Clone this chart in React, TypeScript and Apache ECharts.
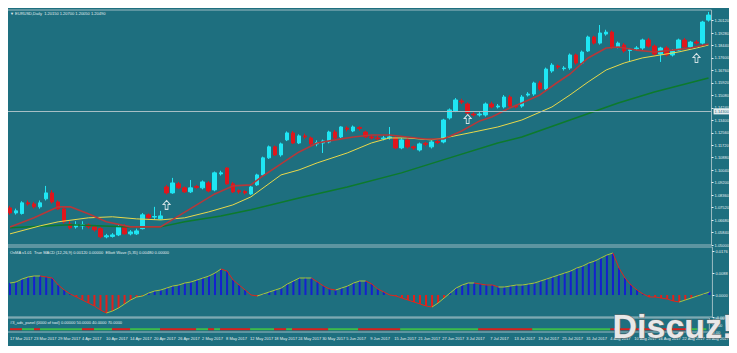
import React, { useEffect, useRef } from "react";
import * as echarts from "echarts";

const DATES = [
  "17 Mar 2017","20 Mar 2017","21 Mar 2017","22 Mar 2017","23 Mar 2017","24 Mar 2017","27 Mar 2017","28 Mar 2017","29 Mar 2017","30 Mar 2017","31 Mar 2017",
  "3 Apr 2017","4 Apr 2017","5 Apr 2017","6 Apr 2017","7 Apr 2017","10 Apr 2017","11 Apr 2017","12 Apr 2017","13 Apr 2017","14 Apr 2017","17 Apr 2017","18 Apr 2017","19 Apr 2017","20 Apr 2017","21 Apr 2017","24 Apr 2017","25 Apr 2017","26 Apr 2017","27 Apr 2017","28 Apr 2017",
  "1 May 2017","2 May 2017","3 May 2017","4 May 2017","5 May 2017","8 May 2017","9 May 2017","10 May 2017","11 May 2017","12 May 2017","15 May 2017","16 May 2017","17 May 2017","18 May 2017","19 May 2017","22 May 2017","23 May 2017","24 May 2017","25 May 2017","26 May 2017","29 May 2017","30 May 2017","31 May 2017",
  "1 Jun 2017","2 Jun 2017","5 Jun 2017","6 Jun 2017","7 Jun 2017","8 Jun 2017","9 Jun 2017","12 Jun 2017","13 Jun 2017","14 Jun 2017","15 Jun 2017","16 Jun 2017","19 Jun 2017","20 Jun 2017","21 Jun 2017","22 Jun 2017","23 Jun 2017","26 Jun 2017","27 Jun 2017","28 Jun 2017","29 Jun 2017","30 Jun 2017",
  "3 Jul 2017","4 Jul 2017","5 Jul 2017","6 Jul 2017","7 Jul 2017","10 Jul 2017","11 Jul 2017","12 Jul 2017","13 Jul 2017","14 Jul 2017","17 Jul 2017","18 Jul 2017","19 Jul 2017","20 Jul 2017","21 Jul 2017","24 Jul 2017","25 Jul 2017","26 Jul 2017","27 Jul 2017","28 Jul 2017","31 Jul 2017",
  "1 Aug 2017","2 Aug 2017","3 Aug 2017","4 Aug 2017","7 Aug 2017","8 Aug 2017","9 Aug 2017","10 Aug 2017","11 Aug 2017","14 Aug 2017","15 Aug 2017","16 Aug 2017","17 Aug 2017","18 Aug 2017","21 Aug 2017","22 Aug 2017","23 Aug 2017","24 Aug 2017","25 Aug 2017","28 Aug 2017"
];

const OPEN = [
  1.0750,1.0716,1.0712,1.0784,1.0777,1.0757,1.0811,1.0851,1.0790,1.0743,
  1.0642,1.0622,1.0629,1.0636,1.0622,1.0610,1.0555,1.0558,1.0568,1.0622,
  1.0575,1.0575,1.0610,1.0703,1.0688,1.0676,1.0891,1.0851,1.0912,1.0885,
  1.0858,1.0895,1.0885,1.0918,1.0871,1.0979,1.1019,1.0912,1.0865,1.0860,
  1.0844,1.0905,1.0972,1.1087,1.1161,1.1107,1.1208,1.1255,1.1187,1.1235,
  1.1221,1.1181,1.1187,1.1194,1.1261,1.1228,1.1288,1.1268,1.1292,1.1261,
  1.1228,1.1221,1.1215,1.1221,1.1221,1.1154,1.1208,1.1161,1.1140,1.1185,
  1.1161,1.1197,1.1194,1.1356,1.1403,1.1470,1.1450,1.1382,1.1376,1.1376,
  1.1450,1.1430,1.1430,1.1497,1.1436,1.1436,1.1510,1.1517,1.1591,1.1551,
  1.1672,1.1705,1.1688,1.1692,1.1780,1.1726,1.1807,1.1901,1.1860,1.1921,
  1.1934,1.1834,1.1847,1.1810,1.1822,1.1827,1.1881,1.1840,1.1786,1.1827,
  1.1780,1.1813,1.1881,1.1834,1.1867,1.1860,1.2015
];
const CLOSE = [
  1.0716,1.0730,1.0784,1.0777,1.0757,1.0784,1.0851,1.0790,1.0743,1.0656,
  1.0616,1.0636,1.0636,1.0622,1.0602,1.0555,1.0562,1.0568,1.0622,1.0575,
  1.0588,1.0595,1.0703,1.0683,1.0692,1.0696,1.0851,1.0918,1.0885,1.0858,
  1.0885,1.0888,1.0925,1.0864,1.0986,1.0986,1.0912,1.0858,1.0858,1.0851,
  1.0891,1.0972,1.1087,1.1161,1.1107,1.1181,1.1255,1.1187,1.1235,1.1228,
  1.1181,1.1190,1.1201,1.1261,1.1221,1.1295,1.1280,1.1295,1.1285,1.1228,
  1.1221,1.1215,1.1221,1.1228,1.1154,1.1208,1.1161,1.1154,1.1181,1.1178,
  1.1194,1.1190,1.1342,1.1410,1.1477,1.1463,1.1389,1.1376,1.1382,1.1450,
  1.1430,1.1436,1.1497,1.1436,1.1430,1.1497,1.1517,1.1591,1.1551,1.1685,
  1.1712,1.1699,1.1692,1.1780,1.1726,1.1800,1.1901,1.1860,1.1928,1.1934,
  1.1834,1.1860,1.1807,1.1815,1.1827,1.1881,1.1840,1.1786,1.1827,1.1780,
  1.1807,1.1881,1.1834,1.1867,1.1860,1.2002,1.2049
];
const LOW = [
  1.0703,1.0705,1.0705,1.0765,1.0745,1.0745,1.0800,1.0780,1.0735,1.0645,
  1.0605,1.0610,1.0605,1.0610,1.0590,1.0545,1.0545,1.0550,1.0560,1.0570,
  1.0565,1.0568,1.0605,1.0670,1.0670,1.0670,1.0840,1.0845,1.0878,1.0850,
  1.0850,1.0878,1.0875,1.0855,1.0862,1.0968,1.0905,1.0850,1.0845,1.0840,
  1.0838,1.0898,1.0965,1.1080,1.1100,1.1095,1.1200,1.1180,1.1180,1.1215,
  1.1170,1.1165,1.1120,1.1185,1.1210,1.1220,1.1265,1.1260,1.1270,1.1220,
  1.1210,1.1205,1.1205,1.1210,1.1145,1.1145,1.1150,1.1140,1.1130,1.1165,
  1.1150,1.1180,1.1185,1.1345,1.1395,1.1450,1.1380,1.1365,1.1365,1.1365,
  1.1420,1.1420,1.1420,1.1425,1.1420,1.1425,1.1500,1.1505,1.1540,1.1540,
  1.1660,1.1685,1.1675,1.1680,1.1715,1.1715,1.1800,1.1850,1.1850,1.1910,
  1.1820,1.1825,1.1795,1.1733,1.1810,1.1815,1.1830,1.1775,1.1733,1.1770,
  1.1770,1.1805,1.1825,1.1825,1.1850,1.1850,1.2005
];
const HIGH = [
  1.0764,1.0745,1.0795,1.0800,1.0790,1.0800,1.0898,1.0870,1.0800,1.0750,
  1.0660,1.0660,1.0660,1.0645,1.0630,1.0620,1.0575,1.0580,1.0635,1.0640,
  1.0600,1.0610,1.0715,1.0712,1.0757,1.0730,1.0905,1.0952,1.0925,1.0895,
  1.0938,1.0905,1.0935,1.0930,1.0995,1.1000,1.1024,1.0925,1.0875,1.0870,
  1.0900,1.0980,1.1095,1.1170,1.1170,1.1190,1.1265,1.1268,1.1245,1.1250,
  1.1230,1.1205,1.1210,1.1270,1.1275,1.1300,1.1300,1.1305,1.1300,1.1270,
  1.1240,1.1235,1.1235,1.1295,1.1235,1.1220,1.1220,1.1170,1.1190,1.1195,
  1.1205,1.1210,1.1350,1.1420,1.1490,1.1485,1.1460,1.1395,1.1395,1.1460,
  1.1465,1.1450,1.1510,1.1510,1.1445,1.1510,1.1530,1.1600,1.1605,1.1695,
  1.1725,1.1715,1.1705,1.1790,1.1790,1.1810,1.1910,1.1910,1.1982,1.1950,
  1.1945,1.1870,1.1860,1.1825,1.1840,1.1890,1.1895,1.1850,1.1835,1.1840,
  1.1820,1.1890,1.1895,1.1875,1.1880,1.2010,1.2070
];

// moving averages: [candle index, price]
const MA_FAST = [
  [0,1.0622],[4,1.0683],[8,1.0757],[10,1.0757],[13,1.0710],[16,1.0656],[20,1.0622],[25,1.0622],
  [28,1.0696],[31,1.0770],[34,1.0844],[37,1.0898],[40,1.0905],[42,1.0965],[45,1.1046],[48,1.1127],
  [51,1.1187],[54,1.1208],[57,1.1228],[60,1.1241],[63,1.1241],[66,1.1228],[69,1.1214],[72,1.1214],
  [75,1.1268],[78,1.1336],[80,1.1362],[83,1.1423],[85,1.1457],[88,1.1511],[91,1.1598],[93,1.1652],
  [96,1.1760],[99,1.1827],[101,1.1834],[104,1.1813],[107,1.1800],[110,1.1813],[113,1.1827],[116,1.1854]
];
const MA_MID = [
  [0,1.0575],[5,1.0629],[8,1.0656],[13,1.0683],[17,1.0690],[21,1.0676],[25,1.0669],[29,1.0683],
  [33,1.0723],[37,1.0770],[40,1.0824],[45,1.0972],[48,1.1006],[51,1.1053],[56,1.1120],[60,1.1187],
  [63,1.1221],[66,1.1221],[70,1.1208],[73,1.1228],[77,1.1261],[81,1.1295],[85,1.1342],[90,1.1430],
  [93,1.1511],[96,1.1598],[99,1.1679],[102,1.1726],[105,1.1760],[108,1.1780],[111,1.1800],[114,1.1827],[116,1.1847]
];
const MA_SLOW = [
  [0,1.0616],[10,1.0636],[20,1.0622],[25,1.0622],[29,1.0656],[35,1.0696],[40,1.0737],[48,1.0817],
  [56,1.0891],[65,1.0986],[73,1.1087],[81,1.1187],[85,1.1228],[93,1.1342],[101,1.1457],[107,1.1531],[116,1.1625]
];

const ARROWS = [[26, 1.0770], [76, 1.1349], [114, 1.1760]];
const H_LINE = 1.1430;

const OSC = [
  0.0048,0.0052,0.0064,0.0072,0.0076,0.0076,0.0072,0.0068,0.0040,0.0020,
  0.0004,-0.0008,-0.0020,-0.0032,-0.0044,-0.0060,-0.0072,-0.0064,-0.0052,-0.0036,
  -0.0020,-0.0008,-0.0004,0.0008,0.0016,0.0020,0.0028,0.0036,0.0040,0.0048,
  0.0052,0.0060,0.0068,0.0076,0.0088,0.0104,0.0096,0.0060,0.0040,0.0020,
  0.0000,-0.0004,0.0004,0.0012,0.0020,0.0028,0.0044,0.0056,0.0068,0.0068,
  0.0068,0.0052,0.0036,0.0024,0.0020,0.0028,0.0036,0.0048,0.0056,0.0056,
  0.0044,0.0024,0.0012,0.0000,-0.0004,-0.0012,-0.0020,-0.0028,-0.0036,-0.0044,
  -0.0048,-0.0032,-0.0012,0.0008,0.0028,0.0040,0.0048,0.0048,0.0044,0.0040,
  0.0040,0.0032,0.0032,0.0036,0.0040,0.0040,0.0044,0.0048,0.0056,0.0064,
  0.0072,0.0080,0.0088,0.0096,0.0108,0.0116,0.0128,0.0136,0.0148,0.0160,
  0.0168,0.0108,0.0068,0.0040,0.0020,0.0004,-0.0008,-0.0008,-0.0012,-0.0016,
  -0.0024,-0.0028,-0.0020,-0.0012,-0.0004,0.0004,0.0012
];

// [from index, to index, direction] of the oscillator line
const OSC_LINE_STATE = [
  [0,5,"up"],[5,16,"down"],[16,35,"up"],[35,41,"down"],[41,50,"up"],[50,54,"down"],[54,59,"up"],
  [59,70,"down"],[70,77,"up"],[77,81,"down"],[81,100,"up"],[100,111,"down"],[111,116,"up"]
];

// [from index, to index, state] of the signal panel
const SIGNAL_STATE = [
  [0,2,"sell"],[2,4,"buy"],[4,5,"sell"],[5,12,"buy"],[12,14,"sell"],[14,17,"buy"],[17,20,"sell"],
  [20,25,"buy"],[25,31,"sell"],[31,33,"buy"],[33,34,"sell"],[34,35,"buy"],[35,40,"sell"],[40,44,"buy"],
  [44,46,"sell"],[46,47,"buy"],[47,53,"sell"],[53,58,"buy"],[58,65,"sell"],[65,78,"buy"],[78,87,"sell"],
  [87,100,"buy"],[100,113,"sell"],[113,116,"buy"]
];
const SIGNAL_LEVEL = 20;

const PRICE_MIN = 1.05;
const PRICE_MAX = 1.2083;
const PRICE_STEP = 0.0084;

const BG = "#1e6f7f";
const TXT = "#e3eef0";
const BORDER = "#9cbcc3";
const UP = "#1fe6f4";
const DOWN = "#e0161c";

export default function App() {
  const ref = useRef<HTMLDivElement>(null);

  useEffect(() => {
    const chart = echarts.init(ref.current!, null, { renderer: "svg" });
    const candles = OPEN.map((o, i) => [o, CLOSE[i], LOW[i], HIGH[i]]);

    const hiddenX = (gridIndex: number) => ({
      type: "category" as const,
      gridIndex,
      data: DATES,
      axisLine: { show: false },
      axisTick: { show: false },
      axisLabel: { show: false },
      splitLine: { show: false },
    });

    const smallFont = { fontSize: 4, color: TXT, fontFamily: "Liberation Sans" };

    const oscLineSeries = OSC_LINE_STATE.map(([a, b, d]) => {
      const pts: number[][] = [];
      for (let i = a as number; i <= (b as number); i++) pts.push([i, OSC[i]]);
      return {
        type: "line",
        xAxisIndex: 1,
        yAxisIndex: 1,
        data: pts,
        symbol: "none",
        z: 3,
        lineStyle: { width: 1, color: d === "down" ? "#e0261c" : "#a9c43e" },
      };
    });

    const signalSeries = SIGNAL_STATE.map(([a, b, d]) => ({
      type: "line",
      xAxisIndex: 2,
      yAxisIndex: 2,
      data: [[a, SIGNAL_LEVEL], [b, SIGNAL_LEVEL]],
      symbol: "none",
      lineStyle: { width: 2, color: d === "sell" ? "#d9201c" : "#3dbb4a" },
    }));

    chart.setOption({
      animation: false,
      backgroundColor: BG,
      grid: [
        { left: 0, right: 18, top: 2, height: 235, show: true, borderColor: BORDER, borderWidth: 1 },
        { left: 0, right: 18, top: 239, height: 70, show: true, borderColor: BORDER, borderWidth: 1 },
        { left: 0, right: 18, top: 310, height: 14, show: true, borderColor: BORDER, borderWidth: 1 },
      ],
      xAxis: [
        hiddenX(0),
        hiddenX(1),
        {
          type: "category",
          gridIndex: 2,
          data: DATES,
          axisLine: { show: false },
          axisTick: { show: false },
          splitLine: { show: false },
          axisLabel: { ...smallFont, interval: 3, align: "left", margin: 4 },
        },
      ],
      yAxis: [
        {
          type: "value",
          gridIndex: 0,
          position: "right",
          min: PRICE_MIN,
          max: PRICE_MAX,
          interval: PRICE_STEP,
          splitLine: { show: false },
          axisLine: { show: false },
          axisTick: { show: true, length: 2, lineStyle: { color: TXT } },
          axisLabel: { ...smallFont, margin: 3, showMaxLabel: false, formatter: (v: number) => v.toFixed(5) },
        },
        {
          type: "value",
          gridIndex: 1,
          position: "right",
          min: -0.0088,
          max: 0.0192,
          interval: 0.0088,
          splitLine: { show: false },
          axisLine: { show: false },
          axisTick: { show: true, length: 2, lineStyle: { color: TXT } },
          axisLabel: { ...smallFont, margin: 3, showMaxLabel: false, formatter: (v: number) => v.toFixed(4) },
        },
        {
          type: "value",
          gridIndex: 2,
          position: "right",
          min: 0,
          max: 100,
          interval: 50,
          splitLine: { show: false },
          axisLine: { show: false },
          axisTick: { show: false },
          axisLabel: { ...smallFont, margin: 3, formatter: (v: number) => v.toFixed(2) },
        },
      ],
      series: [
        {
          type: "candlestick",
          xAxisIndex: 0,
          yAxisIndex: 0,
          data: candles,
          barWidth: 4,
          itemStyle: { color: UP, color0: DOWN, borderColor: UP, borderColor0: DOWN, borderWidth: 1 },
          markLine: {
            silent: true,
            symbol: "none",
            lineStyle: { color: "#a7bfc5", type: "solid", width: 1 },
            label: {
              position: "end",
              distance: 2,
              formatter: H_LINE.toFixed(5),
              fontSize: 4,
              color: BG,
              backgroundColor: "#e6eef0",
              padding: [1, 1],
            },
            data: [{ yAxis: H_LINE }],
          },
        },
        {
          type: "line", xAxisIndex: 0, yAxisIndex: 0, data: MA_SLOW, symbol: "none",
          lineStyle: { color: "#0d7a2c", width: 1.5 },
        },
        {
          type: "line", xAxisIndex: 0, yAxisIndex: 0, data: MA_MID, symbol: "none",
          lineStyle: { color: "#e9d84a", width: 1 },
        },
        {
          type: "line", xAxisIndex: 0, yAxisIndex: 0, data: MA_FAST, symbol: "none",
          lineStyle: { color: "#b5383a", width: 1.6 },
        },
        {
          type: "scatter", xAxisIndex: 0, yAxisIndex: 0, data: ARROWS,
          symbol: "path://M5,0 L10,5 L7,5 L7,11 L3,11 L3,5 L0,5 Z",
          symbolSize: [7, 9],
          itemStyle: { color: "rgba(0,0,0,0)", borderColor: "#ffffff", borderWidth: 1 },
        },
        {
          type: "bar", xAxisIndex: 1, yAxisIndex: 1, data: OSC, barWidth: 2,
          itemStyle: { color: (p: any) => (p.value >= 0 ? "#1420cf" : "#e3201a") },
        },
        ...oscLineSeries,
        ...signalSeries,
      ],
      graphic: [
        {
          type: "text", left: 3, top: 3,
          style: { text: "▼ EURUSD,Daily  1.20150 1.20700 1.20050 1.20490", ...smallFont, fill: TXT },
        },
        {
          type: "text", left: 3, top: 242,
          style: {
            text: "OsMA v1.01  True MACD (12,26,9) 0.00120 0.00000  Elliott Wave (5,35) 0.00480 0.00000",
            ...smallFont, fill: TXT,
          },
        },
        {
          type: "text", left: 3, top: 312,
          style: { text: "#3_ads_panel (0000 of tool) 0.00000 50.0000 40.0000 70.0000", ...smallFont, fill: TXT },
        },
        {
          type: "text", left: 605, top: 300, z: 100,
          style: {
            text: "Discuz!", fontSize: 34, fontWeight: "bold", fontFamily: "Liberation Sans",
            fill: "#e8e8e8", stroke: "#6a6a6a", lineWidth: 1,
          },
        },
      ],
    });

    return () => chart.dispose();
  }, []);

  return <div ref={ref} style={{ width: 725, height: 338, marginLeft: -1 }} />;
}
